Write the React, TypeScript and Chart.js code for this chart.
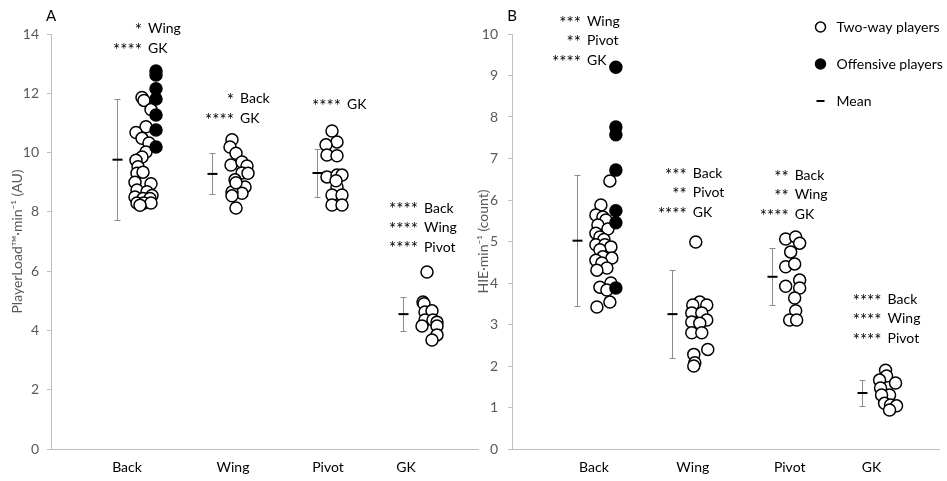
import { useEffect, useRef } from 'react';
import { Chart, registerables } from 'chart.js';

Chart.register(...registerables);

const FONT = 'Lato, "Open Sans", sans-serif';
const W = 947;
const H = 481;

const categories = ['Back', 'Wing', 'Pivot', 'GK'];

// ---------- Panel A: PlayerLoad per minute (AU) ----------
const loadCategoryX = [7.6, 18.2, 27.7, 35.5];
const loadMeanX = [6.6, 16.1, 26.6, 35.2];
const loadMean = [9.76, 9.28, 9.31, 4.55];
const loadSD = [2.05, 0.69, 0.81, 0.57];

const loadBackOffensive = [
  { x: 10.5, y: 12.75 }, { x: 10.5, y: 12.62 }, { x: 10.5, y: 12.15 }, { x: 10.5, y: 11.81 },
  { x: 10.5, y: 11.27 }, { x: 10.5, y: 10.76 }, { x: 10.5, y: 10.19 },
];
const loadBackTwoWay = [
  { x: 9.1, y: 11.86 }, { x: 9.3, y: 11.76 }, { x: 10.0, y: 11.45 }, { x: 9.5, y: 10.87 },
  { x: 8.5, y: 10.68 }, { x: 9.1, y: 10.48 }, { x: 9.8, y: 10.32 }, { x: 9.5, y: 10.02 },
  { x: 9.1, y: 9.85 }, { x: 8.5, y: 9.74 }, { x: 8.7, y: 9.52 }, { x: 8.6, y: 9.3 },
  { x: 9.2, y: 9.34 }, { x: 8.4, y: 9.0 }, { x: 10.0, y: 8.95 }, { x: 8.6, y: 8.74 },
  { x: 9.6, y: 8.68 }, { x: 10.1, y: 8.55 }, { x: 8.4, y: 8.5 }, { x: 9.2, y: 8.45 },
  { x: 9.9, y: 8.45 }, { x: 8.6, y: 8.3 }, { x: 9.3, y: 8.3 }, { x: 10.0, y: 8.3 },
  { x: 8.9, y: 8.22 },
];
const loadWing = [
  { x: 18.1, y: 10.43 }, { x: 17.9, y: 10.19 }, { x: 18.5, y: 9.98 }, { x: 18.0, y: 9.58 },
  { x: 19.1, y: 9.68 }, { x: 19.6, y: 9.55 }, { x: 19.1, y: 9.31 }, { x: 19.7, y: 9.3 },
  { x: 18.4, y: 9.08 }, { x: 19.4, y: 8.84 }, { x: 19.1, y: 8.63 }, { x: 18.1, y: 8.67 },
  { x: 18.1, y: 8.54 }, { x: 18.5, y: 8.98 }, { x: 18.5, y: 8.13 },
];
const loadPivot = [
  { x: 28.1, y: 10.73 }, { x: 28.6, y: 10.36 }, { x: 27.5, y: 10.26 }, { x: 27.6, y: 9.92 },
  { x: 28.6, y: 9.89 }, { x: 27.6, y: 9.18 }, { x: 28.6, y: 9.24 }, { x: 29.1, y: 9.24 },
  { x: 28.6, y: 8.84 }, { x: 28.1, y: 8.57 }, { x: 29.1, y: 8.57 }, { x: 28.1, y: 8.23 },
  { x: 29.1, y: 8.23 }, { x: 28.5, y: 9.05 },
];
const loadGK = [
  { x: 37.6, y: 5.97 }, { x: 37.2, y: 4.96 }, { x: 37.3, y: 4.9 }, { x: 37.4, y: 4.62 },
  { x: 38.1, y: 4.66 }, { x: 37.4, y: 4.35 }, { x: 38.2, y: 4.35 }, { x: 38.6, y: 4.28 },
  { x: 37.1, y: 4.15 }, { x: 38.6, y: 4.15 }, { x: 38.6, y: 3.85 }, { x: 38.1, y: 3.68 },
];
const loadSignificance = [
  [['*', 'Wing'], ['****', 'GK']],
  [['*', 'Back'], ['****', 'GK']],
  [['****', 'GK']],
  [['****', 'Back'], ['****', 'Wing'], ['****', 'Pivot']],
];

// ---------- Panel B: high-intensity events per minute (count) ----------
const hieCategoryX = [8.2, 18.1, 27.8, 36.0];
const hieMeanX = [6.5, 16.0, 26.0, 35.0];
const hieMean = [5.02, 3.25, 4.15, 1.35];
const hieSD = [1.58, 1.06, 0.69, 0.31];

const hieBackOffensive = [
  { x: 10.4, y: 9.2 }, { x: 10.4, y: 7.76 }, { x: 10.4, y: 7.57 }, { x: 10.4, y: 6.72 },
  { x: 10.4, y: 5.74 }, { x: 10.4, y: 5.45 }, { x: 10.4, y: 3.88 },
];
const hieBackTwoWay = [
  { x: 9.8, y: 6.46 }, { x: 8.9, y: 5.88 }, { x: 8.4, y: 5.64 }, { x: 9.1, y: 5.59 },
  { x: 9.4, y: 5.52 }, { x: 8.6, y: 5.4 }, { x: 9.6, y: 5.3 }, { x: 8.4, y: 5.2 },
  { x: 8.8, y: 5.11 }, { x: 9.2, y: 5.05 }, { x: 8.4, y: 4.92 }, { x: 9.3, y: 4.92 },
  { x: 9.9, y: 4.87 }, { x: 8.8, y: 4.8 }, { x: 9.1, y: 4.63 }, { x: 10.0, y: 4.6 },
  { x: 8.4, y: 4.55 }, { x: 9.0, y: 4.48 }, { x: 9.5, y: 4.36 }, { x: 8.5, y: 4.31 },
  { x: 9.9, y: 4.0 }, { x: 8.8, y: 3.9 }, { x: 9.5, y: 3.83 }, { x: 9.8, y: 3.54 },
  { x: 8.5, y: 3.42 },
];
const hieWing = [
  { x: 18.4, y: 4.99 }, { x: 18.8, y: 3.54 }, { x: 18.1, y: 3.47 }, { x: 19.5, y: 3.47 },
  { x: 18.0, y: 3.28 }, { x: 19.0, y: 3.28 }, { x: 19.5, y: 3.11 }, { x: 18.0, y: 3.06 },
  { x: 18.8, y: 3.03 }, { x: 18.0, y: 2.8 }, { x: 19.0, y: 2.8 }, { x: 19.6, y: 2.4 },
  { x: 18.2, y: 2.28 }, { x: 18.3, y: 2.08 }, { x: 18.2, y: 2.0 },
];
const hiePivot = [
  { x: 27.4, y: 5.06 }, { x: 28.4, y: 5.11 }, { x: 28.8, y: 4.96 }, { x: 27.9, y: 4.75 },
  { x: 27.4, y: 4.39 }, { x: 28.3, y: 4.46 }, { x: 28.8, y: 4.07 }, { x: 27.4, y: 3.92 },
  { x: 28.8, y: 3.88 }, { x: 28.3, y: 3.64 }, { x: 28.4, y: 3.33 }, { x: 27.8, y: 3.11 },
  { x: 28.5, y: 3.11 },
];
const hieGK = [
  { x: 37.4, y: 1.9 }, { x: 37.5, y: 1.76 }, { x: 36.8, y: 1.66 }, { x: 38.4, y: 1.59 },
  { x: 36.9, y: 1.47 }, { x: 37.8, y: 1.3 }, { x: 37.0, y: 1.3 }, { x: 37.3, y: 1.1 },
  { x: 37.9, y: 1.06 }, { x: 38.5, y: 1.04 }, { x: 37.8, y: 0.94 },
];
const hieSignificance = [
  [['***', 'Wing'], ['**', 'Pivot'], ['****', 'GK']],
  [['***', 'Back'], ['**', 'Pivot'], ['****', 'GK']],
  [['**', 'Back'], ['**', 'Wing'], ['****', 'GK']],
  [['****', 'Back'], ['****', 'Wing'], ['****', 'Pivot']],
];

const legendItems = ['Two-way players', 'Offensive players', 'Mean'];

// Where each block of significance labels starts (x in axis units, y in value units)
const loadSigAnchors = [
  { x: 9.7, y: 14.17 }, { x: 18.9, y: 11.81 }, { x: 29.6, y: 11.61 }, { x: 37.3, y: 8.13 },
];
const hieSigAnchors = [
  { x: 7.5, y: 10.31 }, { x: 18.1, y: 6.65 }, { x: 28.3, y: 6.6 }, { x: 37.6, y: 3.61 },
];

const LINE_GAP = 19.5;

function meanSdPlugin(xs: number[], means: number[], sds: number[]) {
  return {
    id: 'meanSd',
    afterDatasetsDraw(chart: any) {
      const { ctx, scales } = chart;
      const sx = scales.x;
      const sy = scales.y;
      ctx.save();
      xs.forEach((xv, i) => {
        const px = Math.round(sx.getPixelForValue(xv)) + 0.5;
        const top = Math.round(sy.getPixelForValue(means[i] + sds[i])) + 0.5;
        const bot = Math.round(sy.getPixelForValue(means[i] - sds[i])) + 0.5;
        const mid = sy.getPixelForValue(means[i]);
        ctx.strokeStyle = '#8c8c8c';
        ctx.lineWidth = 1;
        ctx.beginPath();
        ctx.moveTo(px, top);
        ctx.lineTo(px, bot);
        ctx.moveTo(px - 3, top);
        ctx.lineTo(px + 3, top);
        ctx.moveTo(px - 3, bot);
        ctx.lineTo(px + 3, bot);
        ctx.stroke();
        ctx.strokeStyle = '#000';
        ctx.lineWidth = 2;
        ctx.beginPath();
        ctx.moveTo(px - 5, mid);
        ctx.lineTo(px + 5, mid);
        ctx.stroke();
      });
      ctx.restore();
    },
  };
}

function significancePlugin(anchors: { x: number; y: number }[], groups: string[][][]) {
  return {
    id: 'significance',
    afterDraw(chart: any) {
      const { ctx, scales } = chart;
      ctx.save();
      ctx.fillStyle = '#000';
      ctx.textBaseline = 'middle';
      groups.forEach((lines, i) => {
        const ax = scales.x.getPixelForValue(anchors[i].x);
        const ay = scales.y.getPixelForValue(anchors[i].y);
        lines.forEach(([stars, name], j) => {
          const ly = ay + j * LINE_GAP;
          ctx.font = `17px ${FONT}`;
          ctx.textAlign = 'right';
          ctx.fillText(stars, ax - 6, ly + 2);
          ctx.font = `14px ${FONT}`;
          ctx.textAlign = 'left';
          ctx.fillText(name, ax, ly);
        });
      });
      ctx.restore();
    },
  };
}

function panelLetterPlugin(letter: string) {
  return {
    id: 'panelLetter',
    afterDraw(chart: any) {
      const { ctx, chartArea } = chart;
      ctx.save();
      ctx.font = `15px ${FONT}`;
      ctx.fillStyle = '#000';
      ctx.textAlign = 'center';
      ctx.textBaseline = 'middle';
      ctx.fillText(letter, chartArea.left, chartArea.top - 18);
      ctx.restore();
    },
  };
}

const legendPlugin = {
  id: 'groupLegend',
  afterDraw(chart: any) {
    const { ctx, chartArea } = chart;
    const mx = chartArea.right - 119;
    const tx = chartArea.right - 103;
    const rows = [chartArea.top - 7, chartArea.top + 30, chartArea.top + 67];
    ctx.save();
    ctx.font = `14px ${FONT}`;
    ctx.fillStyle = '#000';
    ctx.textAlign = 'left';
    ctx.textBaseline = 'middle';
    legendItems.forEach((label, i) => {
      const ry = rows[i];
      if (i < 2) {
        ctx.beginPath();
        ctx.arc(mx, ry, 5, 0, Math.PI * 2);
        ctx.fillStyle = i === 0 ? '#fff' : '#000';
        ctx.fill();
        ctx.lineWidth = 1.5;
        ctx.strokeStyle = '#000';
        ctx.stroke();
      } else {
        ctx.strokeStyle = '#000';
        ctx.lineWidth = 2;
        ctx.beginPath();
        ctx.moveTo(mx - 4, ry);
        ctx.lineTo(mx + 4, ry);
        ctx.stroke();
      }
      ctx.fillStyle = '#000';
      ctx.fillText(label, tx, ry);
    });
    ctx.restore();
  },
};

function pointSet(data: { x: number; y: number }[], filled: boolean) {
  return {
    data,
    pointRadius: 6,
    pointHoverRadius: 6,
    pointBorderWidth: 1.5,
    borderColor: '#000',
    backgroundColor: filled ? '#000' : '#fff',
    pointBackgroundColor: filled ? '#000' : '#fff',
    pointBorderColor: '#000',
    showLine: false,
  };
}

function buildConfig(opts: {
  datasets: any[];
  yMax: number;
  yStep: number;
  yTitle: string;
  xMax: number;
  categoryX: number[];
  padLeft: number;
  padRight: number;
  axisWidth: number;
  titlePad: number;
  tickPad: number;
  plugins: any[];
}) {
  const font = { family: FONT, size: 14 };
  return {
    type: 'scatter',
    data: { datasets: opts.datasets },
    options: {
      animation: false,
      responsive: false,
      events: [],
      layout: { padding: { left: opts.padLeft, right: opts.padRight, top: 34, bottom: 0 } },
      plugins: { legend: { display: false }, tooltip: { enabled: false } },
      scales: {
        x: {
          type: 'linear',
          min: 0,
          max: opts.xMax,
          afterBuildTicks: (axis: any) => {
            axis.ticks = opts.categoryX.map((v) => ({ value: v }));
          },
          afterFit: (scale: any) => {
            scale.height = H - 449;
          },
          ticks: {
            autoSkip: false,
            maxRotation: 0,
            color: '#000',
            font,
            padding: 10,
            callback: (_v: any, i: number) => categories[i],
          },
          grid: { display: false, drawTicks: false },
          border: { display: true, color: '#bfbfbf', width: 1 },
        },
        y: {
          min: 0,
          max: opts.yMax,
          afterFit: (scale: any) => {
            scale.width = opts.axisWidth;
          },
          ticks: { stepSize: opts.yStep, color: '#595959', font, padding: opts.tickPad },
          grid: { drawOnChartArea: false, tickLength: 4, color: '#bfbfbf' },
          border: { display: true, color: '#bfbfbf', width: 1 },
          title: {
            display: true,
            text: opts.yTitle,
            color: '#595959',
            font,
            padding: { top: opts.titlePad, bottom: 0 },
          },
        },
      },
    },
    plugins: opts.plugins,
  };
}

export default function App() {
  const refA = useRef<HTMLCanvasElement>(null);
  const refB = useRef<HTMLCanvasElement>(null);

  useEffect(() => {
    const chartA = new Chart(
      refA.current as HTMLCanvasElement,
      buildConfig({
        datasets: [
          pointSet(loadBackOffensive, true),
          pointSet(loadBackTwoWay, false),
          pointSet(loadWing, false),
          pointSet(loadPivot, false),
          pointSet(loadGK, false),
        ],
        yMax: 14,
        yStep: 2,
        yTitle: 'PlayerLoad™·min⁻¹ (AU)',
        xMax: 42.7,
        categoryX: loadCategoryX,
        padLeft: 0,
        padRight: W - 478,
        axisWidth: 51,
        titlePad: 8.6,
        tickPad: 8,
        plugins: [
          meanSdPlugin(loadMeanX, loadMean, loadSD),
          significancePlugin(loadSigAnchors, loadSignificance),
          panelLetterPlugin('A'),
        ],
      }) as any
    );
    const chartB = new Chart(
      refB.current as HTMLCanvasElement,
      buildConfig({
        datasets: [
          pointSet(hieBackOffensive, true),
          pointSet(hieBackTwoWay, false),
          pointSet(hieWing, false),
          pointSet(hiePivot, false),
          pointSet(hieGK, false),
        ],
        yMax: 10,
        yStep: 1,
        yTitle: 'HIE·min⁻¹ (count)',
        xMax: 42.8,
        categoryX: hieCategoryX,
        padLeft: 470,
        padRight: W - 940,
        axisWidth: 42,
        titlePad: 4.6,
        tickPad: 10,
        plugins: [
          meanSdPlugin(hieMeanX, hieMean, hieSD),
          significancePlugin(hieSigAnchors, hieSignificance),
          panelLetterPlugin('B'),
          legendPlugin,
        ],
      }) as any
    );
    return () => {
      chartA.destroy();
      chartB.destroy();
    };
  }, []);

  return (
    <div style={{ position: 'absolute', left: 0, top: 0, width: W, height: H, background: '#fff' }}>
      <canvas ref={refA} width={W} height={H} style={{ position: 'absolute', left: 0, top: 0 }} />
      <canvas ref={refB} width={W} height={H} style={{ position: 'absolute', left: 0, top: 0 }} />
    </div>
  );
}
